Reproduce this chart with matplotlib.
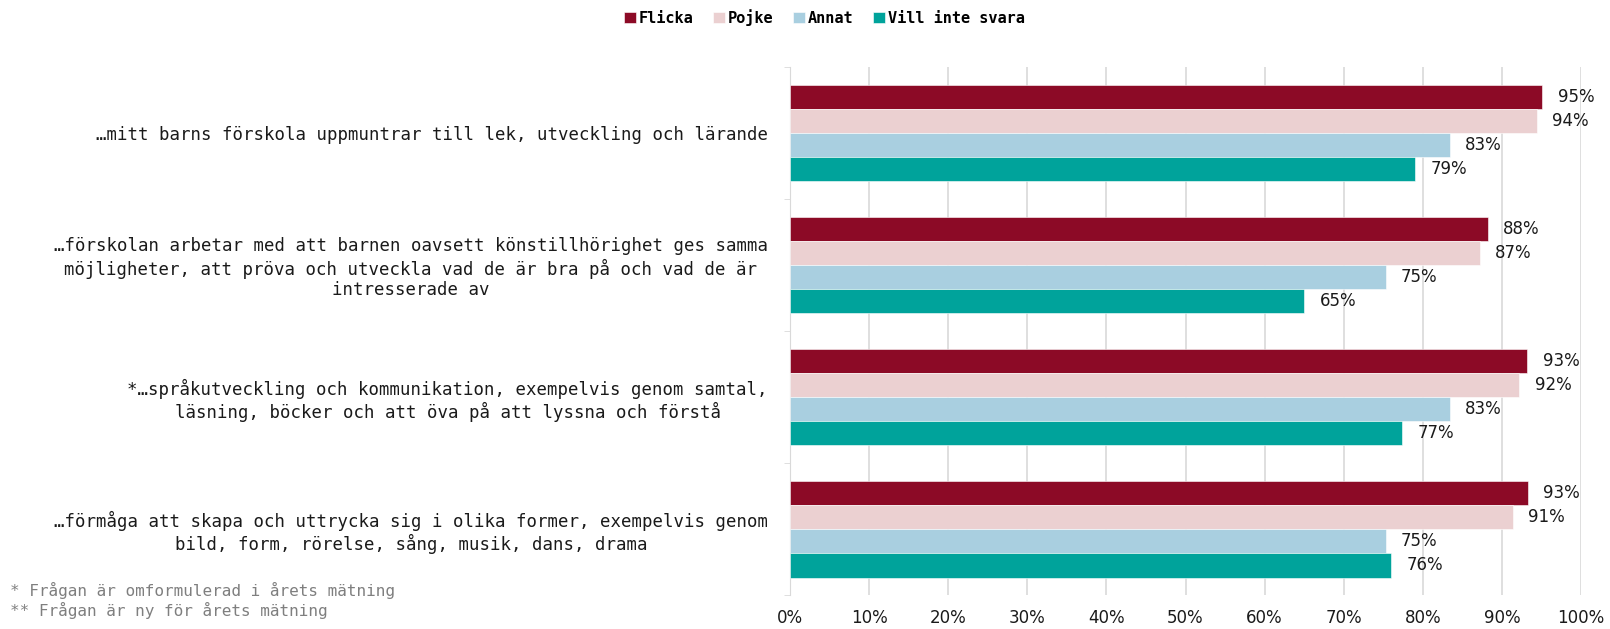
import numpy as np
import matplotlib
matplotlib.use("Agg")
from matplotlib import pyplot as plt

plt.rcParams['font.family'] = ['DejaVu Sans']

# data
categories = [
    "…mitt barns förskola uppmuntrar till lek, utveckling och lärande",
    "…förskolan arbetar med att barnen oavsett könstillhörighet ges samma\nmöjligheter, att pröva och utveckla vad de är bra på och vad de är\nintresserade av",
    "*…språkutveckling och kommunikation, exempelvis genom samtal,\nläsning, böcker och att öva på att lyssna och förstå",
    "…förmåga att skapa och uttrycka sig i olika former, exempelvis genom\nbild, form, rörelse, sång, musik, dans, drama",
]
series_names = ["Flicka", "Pojke", "Annat", "Vill inte svara"]
flicka = [95.1, 88.2, 93.2, 93.3]
pojke = [94.4, 87.2, 92.2, 91.4]
annat = [83.4, 75.3, 83.4, 75.3]
vill_inte = [79.0, 65.0, 77.4, 76.0]
colors = ["#8C0A26", "#EBD0D1", "#A9CFE0", "#00A39B"]
xticks = [0, 10, 20, 30, 40, 50, 60, 70, 80, 90, 100]
footnotes = "* Frågan är omformulerad i årets mätning\n** Frågan är ny för årets mätning"

# "spärrad" text i originalet -> monospace ger ungefär rätt bredd
spaced = ['DejaVu Sans Mono', 'DejaVu Sans']

fig = plt.figure(figsize=(16.1, 6.29), dpi=100)
ax = fig.add_axes([0.4907, 0.054, 0.4913, 0.8395])

y = np.arange(len(categories))
h = 0.1836
all_series = [flicka, pojke, annat, vill_inte]
for i, (vals, name, col) in enumerate(zip(all_series, series_names, colors)):
    pos = y + (i - 1.5) * h
    ax.barh(pos, vals, height=h, color=col, label=name, zorder=3,
            edgecolor="white", linewidth=0.4)
    for p, v in zip(pos, vals):
        ax.annotate(f"{round(v)}%", xy=(v, p), xytext=(11, 0),
                    textcoords="offset points", va="center", ha="left",
                    fontsize=12, color="#1a1a1a")

ax.set_xlim(0, 100)
ax.set_ylim(len(categories) - 0.5, -0.5)
ax.set_xticks(xticks)
ax.set_xticklabels([f"{t}%" for t in xticks], fontsize=12, color="#1a1a1a")
ax.set_yticks(y)
ax.set_yticklabels(categories, fontsize=12.5, color="#1a1a1a", family=spaced)
for lab in ax.get_yticklabels():
    lab.set_multialignment("center")
ax.set_yticks(np.arange(len(categories) + 1) - 0.5, minor=True)
ax.tick_params(axis="y", which="major", length=0, pad=16)
ax.tick_params(axis="y", which="minor", length=4, color="#D9D9D9")
ax.tick_params(axis="x", length=0, pad=10)

ax.grid(axis="x", color="#D9D9D9", linewidth=1.2, zorder=0)
for s in ["top", "right", "bottom"]:
    ax.spines[s].set_visible(False)
ax.spines["left"].set_color("#D9D9D9")

fig.legend(loc="center", bbox_to_anchor=(0.512, 0.972), ncol=4, frameon=False,
           handlelength=0.75, handleheight=0.75, handletextpad=0.2,
           columnspacing=1.3,
           prop={"size": 11, "weight": "bold", "family": spaced})

fig.text(0.006, 0.045, footnotes, fontsize=11.5, color="#7F7F7F",
         va="center", ha="left", linespacing=1.2, family=spaced)

plt.savefig("out.png", dpi=100)
